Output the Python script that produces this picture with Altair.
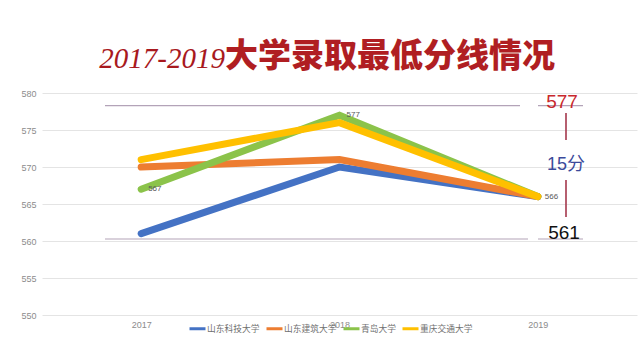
import altair as alt
import pandas as pd

years = ["2017", "2018", "2019"]
schools = ["山东科技大学", "山东建筑大学", "青岛大学", "重庆交通大学"]
colors = ["#4472C4", "#ED7D31", "#8BC34A", "#FFC000"]
sdkj = [561, 570, 566]
sdjz = [570, 571, 566]
qd = [567, 577, 566]
cqjt = [571, 576, 566]
series = [sdkj, sdjz, qd, cqjt]
label_school = "青岛大学"
y_ticks = [550, 555, 560, 565, 570, 575, 580]

rows = []
for s, vals in zip(schools, series):
    for yr, v in zip(years, vals):
        rows.append({"school": s, "year": yr, "value": v})
df = pd.DataFrame(rows)

x_enc = alt.X("year:N",
              scale=alt.Scale(type="point", padding=0.5, domain=years),
              axis=alt.Axis(title=None, labelAngle=0, ticks=False, domain=False,
                            labelColor="#8C8C8C", labelFontSize=9, labelPadding=5,
                            labelFont="Liberation Sans", grid=False))
y_enc = alt.Y("value:Q",
              scale=alt.Scale(domain=[550, 580], nice=False, zero=False),
              axis=alt.Axis(title=None, values=y_ticks, ticks=False, domain=False,
                            gridColor="#E4E4E4", labelColor="#8C8C8C", labelFontSize=9,
                            labelPadding=6, labelFont="Liberation Sans"))
color_enc = alt.Color("school:N",
                      scale=alt.Scale(domain=schools, range=colors),
                      legend=alt.Legend(title=None, orient="none", legendX=146, legendY=226,
                                        direction="horizontal", symbolType="stroke",
                                        symbolStrokeWidth=3, symbolSize=256,
                                        labelFontSize=8.75, labelColor="#707070",
                                        labelFont="Noto Sans CJK SC", columnPadding=0,
                                        labelOffset=0))

base = alt.Chart(df)
layers = []
for s in schools:
    layers.append(
        base.transform_filter(alt.datum.school == s)
        .mark_line(strokeWidth=7, strokeCap="round")
        .encode(x=x_enc, y=y_enc, color=color_enc)
    )

labels = (base.transform_filter(alt.datum.school == label_school)
          .mark_text(align="left", baseline="middle", dx=7, fontSize=8,
                     color="#595959", font="Liberation Sans")
          .encode(x=x_enc, y=y_enc, text="value:Q"))
layers.append(labels)


def txt(t, x, y, **kw):
    return alt.Chart(pd.DataFrame({"t": [t]})).mark_text(**kw).encode(
        x=alt.value(x), y=alt.value(y), text="t:N")


def rule(x1, x2, y1, y2, color, w):
    return alt.Chart(pd.DataFrame({"a": [0]})).mark_rule(color=color, strokeWidth=w).encode(
        x=alt.value(x1), x2=alt.value(x2), y=alt.value(y1), y2=alt.value(y2))


# reference lines for max/min
line_col = "#B3A3B8"
layers += [
    rule(63, 478, 12.7, 12.7, line_col, 1.2),
    rule(496, 541, 12.7, 12.7, line_col, 1.2),
    rule(63, 486, 146, 146, line_col, 1.2),
    rule(496, 541, 146, 146, line_col, 1.2),
    rule(524, 524, 20, 47, "#A4374C", 1.6),
    rule(524, 524, 87, 124, "#A4374C", 1.6),
]

layers += [
    txt("577", 520, 15, align="center", baseline="alphabetic", fontSize=19,
        color="#C8282D", font="Liberation Sans"),
    txt("15分", 524, 77, align="center", baseline="alphabetic", fontSize=18,
        color="#3B4A9B", font="Liberation Sans, Noto Sans CJK SC"),
    txt("561", 522, 146, align="center", baseline="alphabetic", fontSize=19,
        color="#111111", font="Liberation Sans"),
    txt("2017-2019", 183, -25, align="right", baseline="alphabetic", fontSize=29,
        fontStyle="italic", color="#A8191E", font="Liberation Serif"),
    txt("大学录取最低分线情况", 183, -26, align="left", baseline="alphabetic", fontSize=33,
        fontWeight=900, color="#B01E22", font="Noto Sans CJK SC"),
]

chart = alt.layer(*layers).properties(
    width=595, height=222, autosize="none",
    padding={"left": 42, "top": 93, "right": 3, "bottom": 33},
    background="white",
).configure_view(stroke=None)

chart.save("out.html", embed_options={"renderer": "svg", "actions": False})
